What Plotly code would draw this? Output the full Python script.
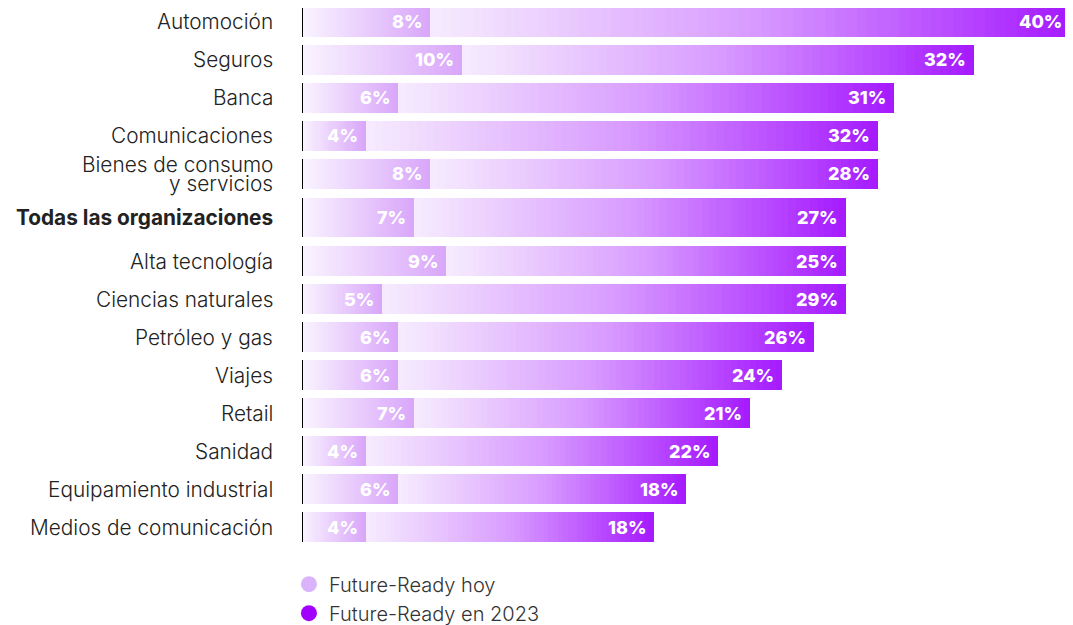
import plotly.graph_objects as go

categories = ["Automoción", "Seguros", "Banca", "Comunicaciones",
              "Bienes de consumo<br>y servicios", "<b>Todas las organizaciones</b>",
              "Alta tecnología", "Ciencias naturales", "Petróleo y gas", "Viajes",
              "Retail", "Sanidad", "Equipamiento industrial", "Medios de comunicación"]
hoy = [8, 10, 6, 4, 8, 7, 9, 5, 6, 6, 7, 4, 6, 4]
en_2023 = [40, 32, 31, 32, 28, 27, 25, 29, 26, 24, 21, 22, 18, 18]

highlight_index = 5
N = len(categories)

# layout positions (extra space around the highlighted row)
pos = []
for i in range(N):
    extra = 0.0
    if i >= highlight_index:
        extra += 0.145
    if i > highlight_index:
        extra += 0.145
    pos.append(i + extra)
widths = [1.03 if i == highlight_index else 0.79 for i in range(N)]


def hex2rgb(h):
    h = h.lstrip('#')
    return tuple(int(h[i:i + 2], 16) for i in (0, 2, 4))


def interp(stops, t):
    for (t0, c0), (t1, c1) in zip(stops[:-1], stops[1:]):
        if t <= t1:
            f = (t - t0) / (t1 - t0) if t1 > t0 else 0
            a, b = hex2rgb(c0), hex2rgb(c1)
            return "rgb(%d,%d,%d)" % tuple(round(a[k] + (b[k] - a[k]) * f) for k in range(3))
    return "rgb(%d,%d,%d)" % hex2rgb(stops[-1][1])


hoy_stops = [(0, "#faf4ff"), (1, "#d9a6fa")]
fut_stops = [(0, "#f6ecfe"), (0.5, "#d99cff"), (1, "#a51aff")]

fig = go.Figure()
S = 60
for k in range(S):
    c = interp(hoy_stops, (k + 0.5) / S)
    over = 1.8 if k < S - 1 else 1.0
    fig.add_trace(go.Bar(
        y=pos, x=[h / S * over for h in hoy], base=[h * k / S for h in hoy],
        width=widths, orientation='h', marker=dict(color=c, line=dict(width=0)),
        showlegend=False, hoverinfo='skip'))
for k in range(S):
    c = interp(fut_stops, (k + 0.5) / S)
    over = 1.8 if k < S - 1 else 1.0
    fig.add_trace(go.Bar(
        y=pos, x=[v / S * over for v in en_2023], base=[h + v * k / S for h, v in zip(hoy, en_2023)],
        width=widths, orientation='h', marker=dict(color=c, line=dict(width=0)),
        showlegend=False, hoverinfo='skip'))

# legend entries
fig.add_trace(go.Scatter(x=[None], y=[None], mode='markers', name='Future-Ready hoy',
                         marker=dict(color='#dbb3fb', size=18)))
fig.add_trace(go.Scatter(x=[None], y=[None], mode='markers', name='Future-Ready en 2023',
                         marker=dict(color='#a100ff', size=18)))

lab_font = dict(family="Inter", size=18, color="white", weight=800)
cat_font = dict(family="Inter", size=20.8, color="#222222", weight=300)
for i in range(N):
    fig.add_annotation(x=hoy[i], y=pos[i], text="%d%%" % hoy[i], showarrow=False,
                       xanchor='right', xshift=-6, font=lab_font)
    fig.add_annotation(x=hoy[i] + en_2023[i], y=pos[i], text="%d%%" % en_2023[i], showarrow=False,
                       xanchor='right', xshift=-6, font=lab_font)
    fig.add_shape(type='line', x0=0, x1=0, y0=pos[i] - widths[i] / 2, y1=pos[i] + widths[i] / 2,
                  line=dict(color='black', width=2), layer='above')
    lines = categories[i].split("<br>")
    for j, ln in enumerate(lines):
        shift = ((len(lines) - 1) / 2 - j) * 19.5
        fig.add_annotation(x=0, xref='paper', y=pos[i], yref='y', text=ln, showarrow=False,
                           xanchor='right', xshift=-27, yshift=shift, font=cat_font)

fig.update_layout(
    width=1065, height=617,
    margin=dict(l=294, r=3, t=0, b=75, autoexpand=False),
    paper_bgcolor='white', plot_bgcolor='white',
    barmode='overlay', bargap=0,
    font=dict(family="Inter", color="#222222"),
    showlegend=True,
    legend=dict(x=-0.017, xanchor='left', y=-0.027, yanchor='top',
                font=dict(size=20, color="#333333", family="Inter", weight=300),
                tracegroupgap=0, itemsizing='trace'),
    xaxis=dict(range=[0, 48], visible=False, fixedrange=True),
    yaxis=dict(range=[13.895, -0.368], visible=False, fixedrange=True),
)

fig.write_html("out.html")
